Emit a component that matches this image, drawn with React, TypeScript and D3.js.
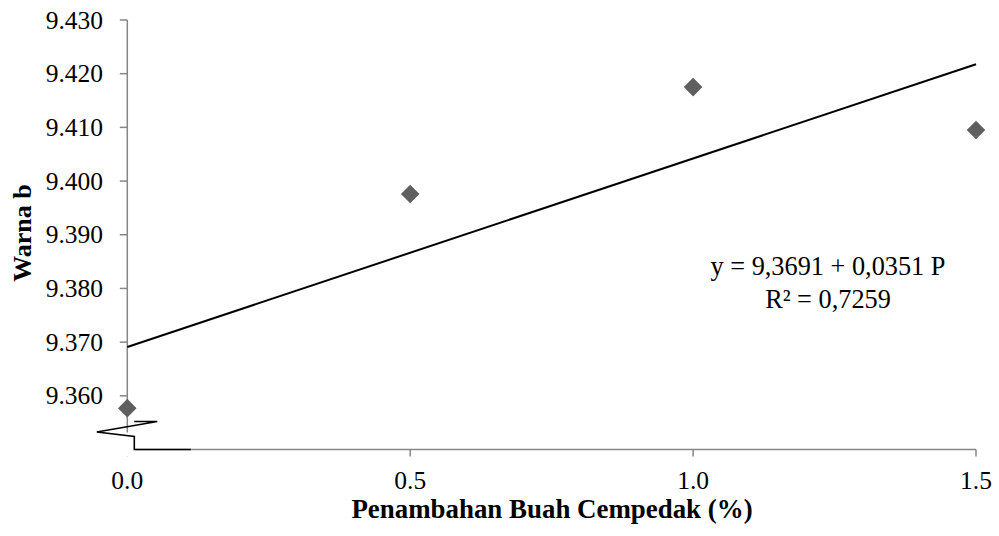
import React from "react";
import * as d3 from "d3";

const xValues = [0, 0.5, 1.0, 1.5];
const yValues = [9.3577, 9.3976, 9.4175, 9.4095];
const xTicks = [0, 0.5, 1.0, 1.5];
const yTicks = [9.36, 9.37, 9.38, 9.39, 9.4, 9.41, 9.42, 9.43];
const trendIntercept = 9.3691;
const trendSlope = 0.0351;
const equationLines = ["y = 9,3691 + 0,0351 P", "R² = 0,7259"];
const xTitle = "Penambahan Buah Cempedak (%)";
const yTitle = "Warna b";

const W = 999;
const H = 536;
const FONT = "'Liberation Serif', 'Times New Roman', serif";

export default function App() {
  const x = d3.scaleLinear().domain([0, 1.5]).range([127.3, 976]);
  const y = d3.scaleLinear().domain([9.35, 9.43]).range([449.5, 20]);
  const axisColor = "#868686";

  const trend = d3.line<number>()
    .x((d) => x(d))
    .y((d) => y(trendIntercept + trendSlope * d));

  const diamond = d3.symbol().type(d3.symbolDiamond2).size(220)();

  const bx = x(0);
  const by = y(9.35);
  const breakPts: [number, number][] = [
    [bx + 7, by - 28],
    [bx + 30, by - 28],
    [bx - 30.5, by - 17.5],
    [bx + 7, by - 13],
    [bx + 7, by],
    [bx + 63.5, by],
  ];

  return (
    <svg width={W} height={H} style={{ position: "absolute", left: 0, top: 0 }} fontFamily={FONT}>
      <rect width={W} height={H} fill="#fff" />
      {/* axes */}
      <line x1={x(0)} x2={x(0)} y1={y(9.43)} y2={y(9.35)} stroke={axisColor} strokeWidth={1.5} />
      <line x1={x(0)} x2={x(1.5)} y1={y(9.35)} y2={y(9.35)} stroke={axisColor} strokeWidth={1.5} />
      {yTicks.map((t) => (
        <g key={t}>
          <line x1={x(0) - 7.5} x2={x(0)} y1={y(t)} y2={y(t)} stroke={axisColor} strokeWidth={1.5} />
          <text x={103} y={y(t)} dy="0.34em" textAnchor="end" fontSize={25.5} fill="#000">
            {d3.format(".3f")(t)}
          </text>
        </g>
      ))}
      {xTicks.map((t) => (
        <g key={t}>
          <line x1={x(t)} x2={x(t)} y1={y(9.35)} y2={y(9.35) + 7} stroke={axisColor} strokeWidth={1.5} />
          <text x={x(t)} y={489} textAnchor="middle" fontSize={25.5} fill="#000">
            {d3.format(".1f")(t)}
          </text>
        </g>
      ))}
      {/* axis break */}
      <rect x={bx - 6} y={by - 17} width={13} height={20} fill="#fff" />
      <rect x={bx - 2} y={by - 2} width={10} height={9} fill="#fff" />
      <polyline
        points={breakPts.map((p) => p.join(",")).join(" ")}
        fill="none"
        stroke="#000"
        strokeWidth={1.6}
      />
      {/* trend line */}
      <path d={trend([0, 1.5]) || ""} fill="none" stroke="#000" strokeWidth={2} />
      {/* points */}
      {xValues.map((v, i) => (
        <path key={i} d={diamond || ""} transform={`translate(${x(v)},${y(yValues[i])})`} fill="#5f5f5f" />
      ))}
      {/* equation */}
      <text x={828} y={275} textAnchor="middle" fontSize={26.3} fill="#000">{equationLines[0]}</text>
      <text x={828} y={308} textAnchor="middle" fontSize={26.3} fill="#000">{equationLines[1]}</text>
      {/* titles */}
      <text x={552} y={518} textAnchor="middle" fontSize={26.9} fontWeight="bold" fill="#000">{xTitle}</text>
      <text
        transform={`translate(31,233) rotate(-90)`}
        textAnchor="middle"
        fontSize={26}
        fontWeight="bold"
        fill="#000"
      >
        {yTitle}
      </text>
    </svg>
  );
}
